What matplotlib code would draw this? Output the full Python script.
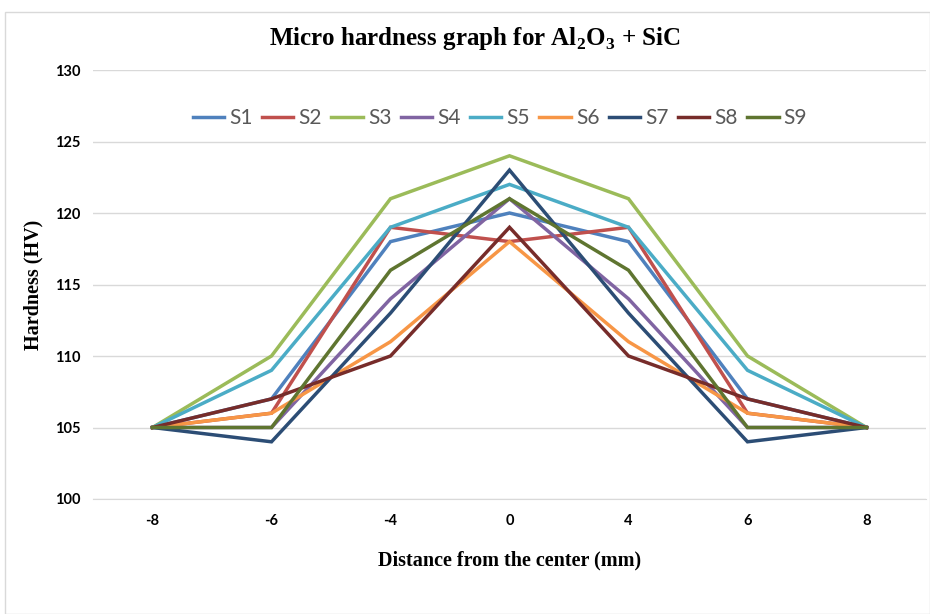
import matplotlib
matplotlib.use("Agg")
import matplotlib.pyplot as plt
from matplotlib.patches import Rectangle

plt.rcParams["mathtext.fontset"] = "custom"
plt.rcParams["mathtext.rm"] = "Liberation Serif:bold"

categories = ["-8", "-6", "-4", "0", "4", "6", "8"]
series_names = ["S1", "S2", "S3", "S4", "S5", "S6", "S7", "S8", "S9"]
S1 = [105, 107, 118, 120, 118, 107, 105]
S2 = [105, 106, 119, 118, 119, 106, 105]
S3 = [105, 110, 121, 124, 121, 110, 105]
S4 = [105, 105, 114, 121, 114, 105, 105]
S5 = [105, 109, 119, 122, 119, 109, 105]
S6 = [105, 106, 111, 118, 111, 106, 105]
S7 = [105, 104, 113, 123, 113, 104, 105]
S8 = [105, 107, 110, 119, 110, 107, 105]
S9 = [105, 105, 116, 121, 116, 105, 105]
yticks = [100, 105, 110, 115, 120, 125, 130]

colors = ["#4F81BD", "#C0504D", "#9BBB59", "#8064A2", "#4BACC6",
          "#F79646", "#2C4D75", "#772C2A", "#5F7530"]
data = [S1, S2, S3, S4, S5, S6, S7, S8, S9]

fig = plt.figure(figsize=(9.30, 6.14), dpi=100)
fig.patches.append(Rectangle((5/930, 0), 1 - 5/930, 1 - 12/614, transform=fig.transFigure,
                             fill=False, edgecolor="#D9D9D9", linewidth=1.0))
ax = fig.add_axes([93/930, 1 - 499/614, 833/930, 429/614])

x = list(range(len(categories)))
for name, vals, c in zip(series_names, data, colors):
    ax.plot(x, vals, color=c, linewidth=2.5, label=name, solid_joinstyle="miter")

ax.set_xlim(-0.5, len(categories) - 0.5)
ax.set_ylim(100, 130)
ax.set_yticks(yticks)
ax.set_xticks(x)
ax.set_xticklabels(categories)
ax.grid(axis="y", color="#D9D9D9", linewidth=1.0)
ax.set_axisbelow(True)
for s in ["top", "right", "left"]:
    ax.spines[s].set_visible(False)
ax.spines["bottom"].set_color("#D9D9D9")
ax.tick_params(length=0)
ax.tick_params(axis="x", pad=11)
ax.tick_params(axis="y", pad=9)
for lab in ax.get_xticklabels() + ax.get_yticklabels():
    lab.set_fontfamily("Lato")
    lab.set_fontweight("bold")
    lab.set_fontsize(10.5)
    lab.set_color("#000000")

fig.text(0.5 + 10/930, 1 - 38/614, r"Micro hardness graph for Al$_\mathrm{2}$O$_\mathrm{3}$ + SiC",
         ha="center", va="center", fontfamily="Liberation Serif", fontweight="bold", fontsize=18)
ax.set_xlabel("Distance from the center (mm)", fontfamily="Liberation Serif",
              fontweight="bold", fontsize=14.5, labelpad=16)
ax.set_ylabel("Hardness (HV)", fontfamily="Liberation Serif",
              fontweight="bold", fontsize=14.5, labelpad=8)

leg = ax.legend(loc="center", bbox_to_anchor=(500/930, 1 - 118/614), bbox_transform=fig.transFigure,
                ncol=9, frameon=False, handlelength=1.5, handletextpad=0.25,
                columnspacing=0.45, prop={"family": "Lato", "size": 15})
for t in leg.get_texts():
    t.set_color("#595959")

fig.savefig("out.png", dpi=100)
